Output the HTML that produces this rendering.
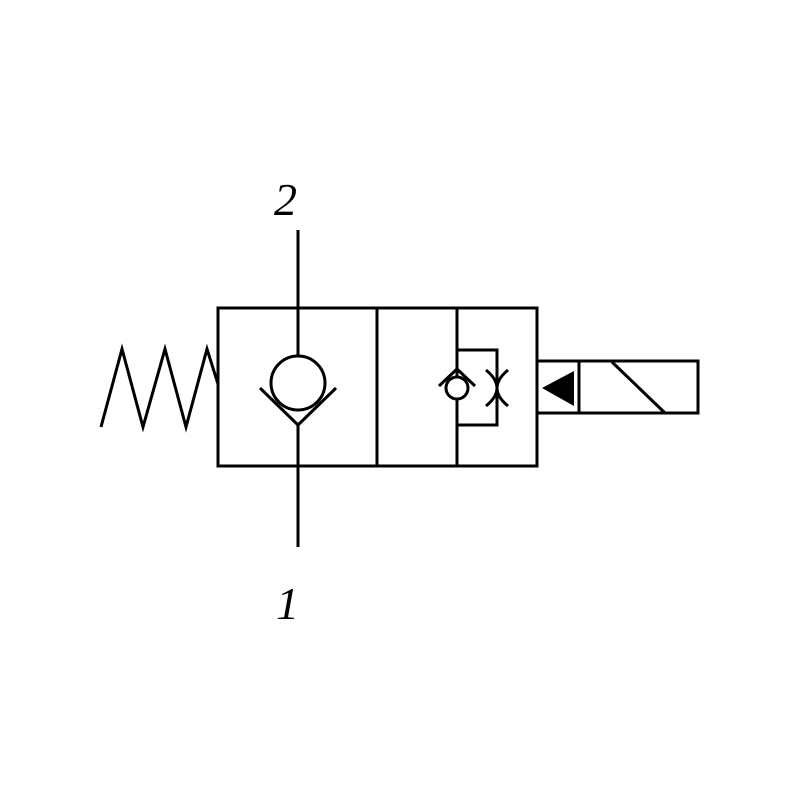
<!DOCTYPE html>
<html><head><style>body{margin:0;background:#fff}</style></head><body>
<svg width="800" height="800" viewBox="0 0 800 800" xmlns="http://www.w3.org/2000/svg">
<rect width="800" height="800" fill="#fff"/>
<g fill="none" stroke="#000" stroke-width="3">
<rect x="218" y="308" width="319" height="158"/>
<line x1="377" y1="308" x2="377" y2="466"/>
<line x1="457" y1="308" x2="457" y2="466"/>
<polyline points="101,427 122,349 143,427 165,349 186,427 207,349 218,384"/>
<line x1="298" y1="230" x2="298" y2="356"/>
<circle cx="298" cy="383" r="27"/>
<polyline points="260,388 298,425 336,388"/>
<line x1="298" y1="425" x2="298" y2="547"/>
<polyline points="457,350 497,350 497,425 457,425"/>
<circle cx="457" cy="388" r="11" fill="#fff"/>
<polyline points="439,386 457,369 475,386"/>
<path d="M486,370 Q508,388 486,406"/>
<path d="M508,370 Q486,388 508,406"/>
<rect x="537" y="361" width="161" height="52"/>
<line x1="579" y1="361" x2="579" y2="413"/>
<line x1="612" y1="362" x2="665" y2="413"/>
</g>
<polygon points="542,388 574,371 574,406" fill="#000"/>
<text x="274" y="215" font-family="Liberation Serif, serif" font-style="italic" font-size="46">2</text>
<text x="276" y="619" font-family="Liberation Serif, serif" font-style="italic" font-size="46">1</text>
</svg>
</body></html>
